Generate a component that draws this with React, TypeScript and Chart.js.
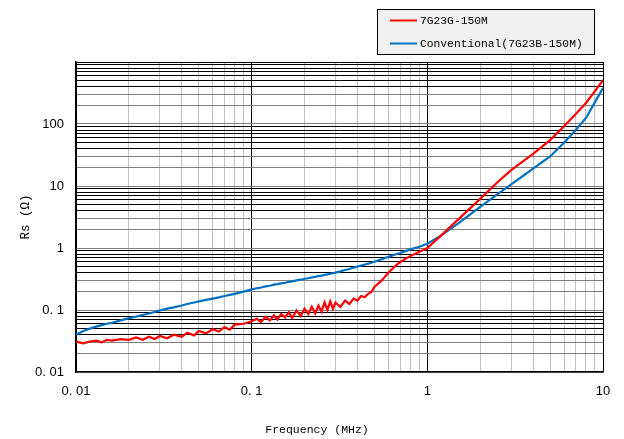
import React, { useEffect, useRef } from "react";
import { Chart, registerables } from "chart.js";

Chart.register(...registerables);

const FREQ_MHZ = [
  0.01, 0.011, 0.012, 0.013, 0.014, 0.015, 0.016, 0.018, 0.02, 0.022, 0.024, 0.026, 0.028,
  0.03, 0.033, 0.036, 0.04, 0.043, 0.047, 0.05, 0.055, 0.06, 0.065, 0.07, 0.075, 0.08, 0.09,
  0.1, 0.107, 0.113, 0.12, 0.127, 0.134, 0.14, 0.147, 0.155, 0.163, 0.17, 0.18, 0.19, 0.2,
  0.21, 0.22, 0.23, 0.24, 0.25, 0.26, 0.27, 0.28, 0.29, 0.3, 0.32, 0.34, 0.36, 0.38, 0.4,
  0.42, 0.44, 0.46, 0.48, 0.5, 0.55,
  0.6, 0.65, 0.7, 0.75, 0.8, 0.9, 1, 1.2, 1.5, 2, 2.5, 3, 3.5, 4, 5, 6, 7, 8, 9, 10,
];

const RS_7G23G = [
  0.031, 0.029, 0.031, 0.032, 0.03, 0.033, 0.032, 0.034, 0.033, 0.036, 0.033, 0.037, 0.034,
  0.038, 0.035, 0.04, 0.037, 0.043, 0.039, 0.046, 0.042, 0.049, 0.045, 0.053, 0.048, 0.058, 0.06,
  0.066, 0.072, 0.064, 0.078, 0.068, 0.082, 0.07, 0.086, 0.076, 0.092, 0.074, 0.098, 0.08,
  0.105, 0.086, 0.113, 0.088, 0.118, 0.094, 0.133, 0.1, 0.138, 0.104, 0.132, 0.112, 0.142,
  0.125, 0.152, 0.142, 0.168, 0.16, 0.182, 0.195, 0.235, 0.3,
  0.4, 0.5, 0.59, 0.67, 0.74, 0.87, 1.0, 1.6, 2.9, 6.2, 11.4, 18, 25, 33, 55, 92, 145, 218,
  340, 510,
];

const RS_CONVENTIONAL = [
  0.04, 0.046, 0.05, 0.054, 0.057, 0.06, 0.062, 0.068, 0.074, 0.078, 0.083, 0.088, 0.093, 0.098,
  0.105, 0.11, 0.118, 0.125, 0.132, 0.138, 0.146, 0.153, 0.16, 0.168, 0.175, 0.182, 0.198,
  0.215, 0.224, 0.231, 0.241, 0.246, 0.256, 0.261, 0.269, 0.275, 0.285, 0.289, 0.301, 0.308,
  0.319, 0.325, 0.336, 0.342, 0.353, 0.359, 0.369, 0.375, 0.386, 0.391, 0.401, 0.42, 0.442,
  0.458, 0.482, 0.5, 0.522, 0.538, 0.561, 0.578, 0.6, 0.66,
  0.72, 0.78, 0.83, 0.89, 0.95, 1.05, 1.17, 1.6, 2.5, 4.6, 7.3, 10.6, 14.5, 19, 30, 50, 80, 125,
  225, 380,
];

const SERIES_NAMES = ["7G23G-150M", "Conventional(7G23B-150M)"];
const SERIES_COLORS = ["#ff0000", "#0070c0"];

const X_DECADES = [0.01, 0.1, 1];
const X_MAX = 10;
const X_LABEL_VALUES = [0.01, 0.1, 1, 10];
const X_LABELS = ["0. 01", "0. 1", "1", "10"];
const X_TITLE = "Frequency (MHz)";

const Y_DECADES = [0.01, 0.1, 1, 10, 100];
const Y_MAX = 1000;
const Y_LABEL_VALUES = [0.01, 0.1, 1, 10, 100];
const Y_LABELS = ["0. 01", "0. 1", "1", "10", "100"];
const Y_TITLE = "Rs (Ω)";

const MULTS = [1, 2, 3, 4, 5, 6, 7, 8, 9];

function gridValues(decades: number[], max: number) {
  const out: number[] = [];
  decades.forEach((d) => MULTS.forEach((m) => out.push(+(d * m).toPrecision(6))));
  out.push(max);
  return out;
}

function mantissa(v: number) {
  const e = Math.floor(Math.log10(v) + 1e-9);
  return Math.round(v / Math.pow(10, e));
}

function labelFor(v: number, vals: number[], labels: string[]) {
  for (let i = 0; i < vals.length; i++) {
    if (Math.abs(Math.log10(v) - Math.log10(vals[i])) < 1e-6) return labels[i];
  }
  return "";
}

const legendPlugin = {
  id: "boxLegend",
  afterDraw(chart: any) {
    const ctx = chart.ctx;
    ctx.save();
    ctx.fillStyle = "#f0f0f0";
    ctx.fillRect(377, 9, 217, 45);
    ctx.strokeStyle = "#000";
    ctx.lineWidth = 1;
    ctx.strokeRect(377.5, 9.5, 217, 45);
    const rows = [20.5, 43.5];
    ctx.font = '11.3px "Liberation Mono"';
    ctx.textBaseline = "middle";
    ctx.textAlign = "left";
    SERIES_NAMES.forEach((name, i) => {
      ctx.strokeStyle = SERIES_COLORS[i];
      ctx.lineWidth = 2;
      ctx.beginPath();
      ctx.moveTo(390, rows[i]);
      ctx.lineTo(417, rows[i]);
      ctx.stroke();
      ctx.fillStyle = "#000";
      ctx.fillText(name, 420, rows[i] + 0.5);
    });
    ctx.font = '11.5px "Liberation Mono"';
    ctx.textAlign = "center";
    ctx.fillText(X_TITLE, 317, 430);
    ctx.restore();
  },
};

export default function App() {
  const ref = useRef<HTMLCanvasElement | null>(null);

  useEffect(() => {
    if (!ref.current) return;
    const xGrid = gridValues(X_DECADES, X_MAX);
    const yGrid = gridValues(Y_DECADES, Y_MAX);
    const mk = (vals: number[]) => FREQ_MHZ.map((f, i) => ({ x: f, y: vals[i] }));

    const chart = new Chart(ref.current, {
      type: "line",
      data: {
        datasets: [
          {
            label: SERIES_NAMES[0],
            data: mk(RS_7G23G),
            borderColor: SERIES_COLORS[0],
            backgroundColor: SERIES_COLORS[0],
            borderWidth: 2.2,
            pointRadius: 0,
            tension: 0,
          },
          {
            label: SERIES_NAMES[1],
            data: mk(RS_CONVENTIONAL),
            borderColor: SERIES_COLORS[1],
            backgroundColor: SERIES_COLORS[1],
            borderWidth: 2.2,
            pointRadius: 0,
            tension: 0,
          },
        ],
      },
      options: {
        responsive: false,
        animation: false,
        devicePixelRatio: 1,
        layout: { padding: { left: 0, right: 21, top: 62, bottom: 0 } },
        plugins: { legend: { display: false }, tooltip: { enabled: false } },
        scales: {
          x: {
            type: "logarithmic",
            min: 0.01,
            max: X_MAX,
            afterBuildTicks: (s: any) => {
              s.ticks = xGrid.map((v) => ({ value: v }));
            },
            afterFit: (s: any) => {
              s.height = 67;
            },
            ticks: {
              autoSkip: false,
              maxRotation: 0,
              padding: 12,
              color: "#000",
              font: { family: "Liberation Sans", size: 13 },
              callback: (v: any) => labelFor(Number(v), X_LABEL_VALUES, X_LABELS),
            },
            grid: {
              drawTicks: false,
              lineWidth: 1,
              color: (c: any) => {
                const v = c.tick ? c.tick.value : 0;
                return mantissa(v) === 1 ? "#000000" : "#c0c0c0";
              },
            },
            border: { color: "#000", width: 1.5 },
            title: { display: false },
          },
          y: {
            type: "logarithmic",
            min: 0.01,
            max: Y_MAX,
            afterBuildTicks: (s: any) => {
              s.ticks = yGrid.map((v) => ({ value: v }));
            },
            afterFit: (s: any) => {
              s.width = 76;
            },
            ticks: {
              autoSkip: false,
              padding: 12,
              color: "#000",
              font: { family: "Liberation Sans", size: 13 },
              callback: (v: any) => labelFor(Number(v), Y_LABEL_VALUES, Y_LABELS),
            },
            grid: {
              drawTicks: false,
              lineWidth: 1,
              color: (c: any) => {
                const v = c.tick ? c.tick.value : 0;
                const m = mantissa(v);
                return m <= 3 && v < Y_MAX ? "#808080" : "#000000";
              },
            },
            border: { color: "#000", width: 1.5 },
            title: {
              display: true,
              text: Y_TITLE,
              color: "#000",
              font: { family: "Liberation Mono", size: 12.5 },
              padding: { top: 18.5, bottom: 0 },
            },
          },
        },
      },
      plugins: [legendPlugin],
    } as any);
    return () => chart.destroy();
  }, []);

  return (
    <div style={{ position: "absolute", left: 0, top: 0, width: 624, height: 439, background: "#fff" }}>
      <canvas ref={ref} width={624} height={439} />
    </div>
  );
}
